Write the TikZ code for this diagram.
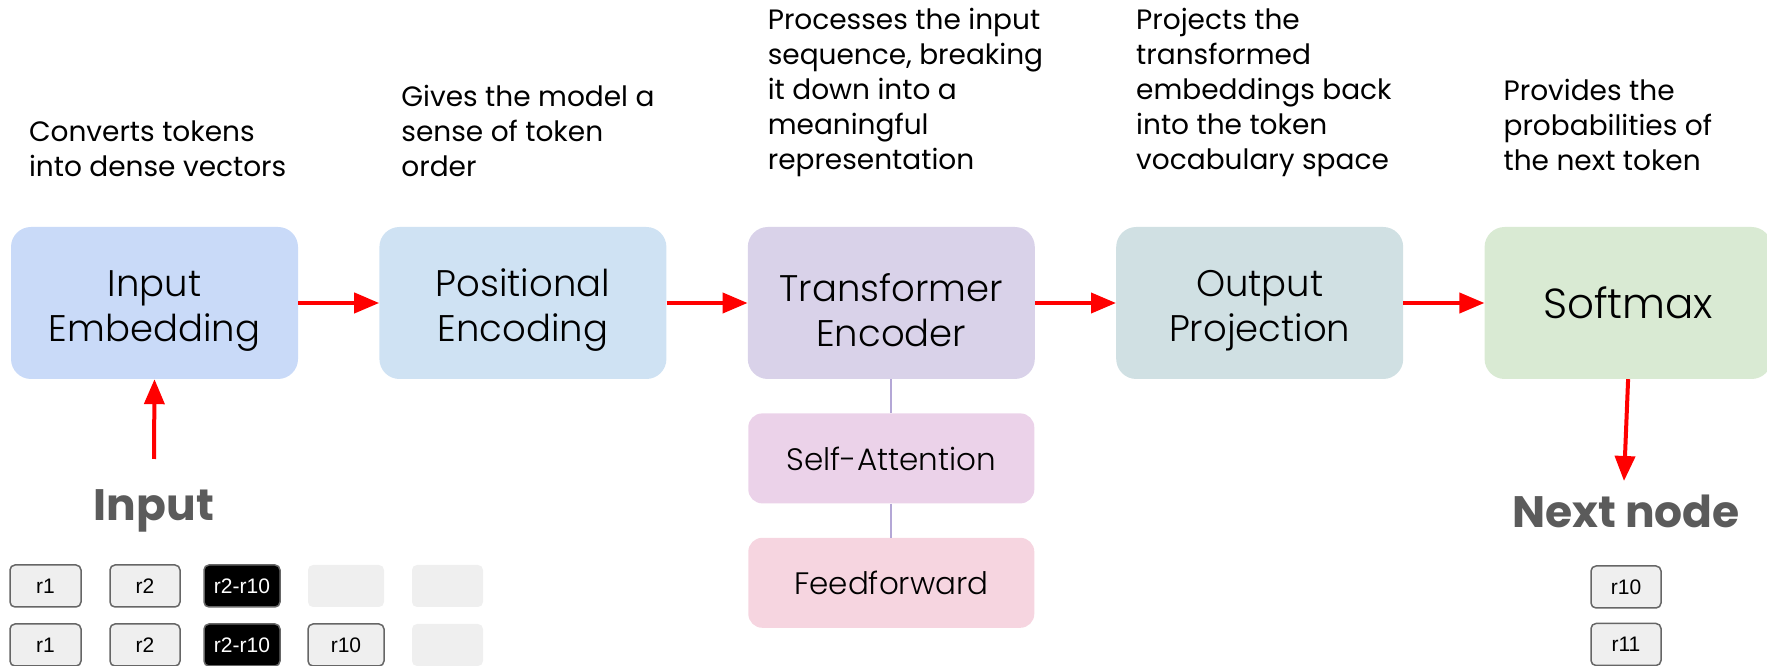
\documentclass[tikz,border=0pt]{standalone}
\usepackage{fontspec}
\setmainfont{Poppins}
\newfontfamily\lightfont{Poppins Light}
\newfontfamily\tokenfont{Liberation Sans}
\usepackage{tikz}
\usetikzlibrary{arrows.meta, positioning, calc}
\definecolor{embedblue}{HTML}{C9DAF8}
\definecolor{posblue}{HTML}{CFE2F3}
\definecolor{encpurple}{HTML}{D9D2E9}
\definecolor{projcyan}{HTML}{D0E0E3}
\definecolor{softgreen}{HTML}{D9EAD3}
\definecolor{attnpink}{HTML}{EBD2E9}
\definecolor{ffpink}{HTML}{F6D5E0}
\definecolor{linklilac}{HTML}{B4A7D6}
\definecolor{labelgray}{HTML}{5B5B5B}
\definecolor{tokengray}{HTML}{EFEFEF}
\definecolor{tokenedge}{HTML}{666666}
\newcommand{\blockstrut}{\rule{0pt}{42pt}}
\tikzstyle{block} = [rounded corners=20pt, minimum width=287pt, minimum height=152pt, align=center, inner sep=0pt, font=\lightfont\fontsize{37}{45}\selectfont]
\tikzstyle{subblock} = [rounded corners=14pt, minimum width=286pt, minimum height=90pt, inner sep=0pt, font=\lightfont\fontsize{31}{36}\selectfont]
\tikzstyle{desc} = [align=left, inner sep=0pt, font=\fontsize{28}{35}\selectfont]
\tikzstyle{token} = [rounded corners=5pt, draw=tokenedge, line width=1.5pt, fill=tokengray, minimum width=71pt, minimum height=42pt, inner sep=0pt, font=\tokenfont\fontsize{21}{23}\selectfont]
\tikzstyle{blank} = [rounded corners=5pt, fill=tokengray, minimum width=71pt, minimum height=42pt, inner sep=0pt]
\tikzstyle{bigtag} = [text=labelgray, font=\fontsize{44}{52}\selectfont\bfseries]
\tikzstyle{arrow} = [-{Triangle[length=25pt,width=20pt]}, line width=4pt, red]

\begin{document}
\begin{tikzpicture}[x=1pt, y=1pt]
\useasboundingbox (0,0) rectangle (1767,666);

% main pipeline
\node[block, fill=embedblue] (embed) at (154.5,363) {\blockstrut Input\\Embedding};
\node[block, fill=posblue, right=81pt of embed] (posenc) {\blockstrut Positional\\Encoding};
\node[block, fill=encpurple, right=81pt of posenc] (encoder) {\blockstrut Transformer\\Encoder};
\node[block, fill=projcyan, right=81pt of encoder] (outproj) {\blockstrut Output\\Projection};
\node[block, fill=softgreen, right=81pt of outproj, font=\lightfont\fontsize{42}{50}\selectfont] (softmax) {Softmax};

% encoder parts
\node[subblock, fill=attnpink, below=34pt of encoder] (selfattn) {Self-Attention};
\node[subblock, fill=ffpink, below=34pt of selfattn] (feedfwd) {Feedforward};
\draw[linklilac, line width=2pt] (encoder.south) -- (selfattn.north);
\draw[linklilac, line width=2pt] (selfattn.south) -- (feedfwd.north);

% what each stage does
\node[desc, above=50pt of embed.north west, anchor=south west, xshift=18pt] (embedtext) {Converts tokens\\into dense vectors};
\node[desc, above=50pt of posenc.north west, anchor=south west, xshift=22pt] (posenctext) {Gives the model a\\sense of token\\order};
\node[desc, above=50pt of encoder.north west, anchor=south west, xshift=20pt] (encodertext) {Processes the input\\sequence, breaking\\it down into a\\meaningful\\representation};
\node[desc, above=50pt of outproj.north west, anchor=south west, xshift=20pt] (outprojtext) {Projects the\\transformed\\embeddings back\\into the token\\vocabulary space};
\node[desc, above=56pt of softmax.north west, anchor=south west, xshift=19pt] (softmaxtext) {Provides the\\probabilities of\\the next token};

\draw[arrow] (embed.east) -- (posenc.west);
\draw[arrow] (posenc.east) -- (encoder.west);
\draw[arrow] (encoder.east) -- (outproj.west);
\draw[arrow] (outproj.east) -- (softmax.west);

% input side
\node[bigtag] (inputtag) at (154,155) {Input};
\coordinate (inputfoot) at (154,207);
\draw[arrow] (inputfoot) -- (embed.south);

\node[token] (a1) at (45.5,80) {r1};
\node[token, minimum width=70pt] (a2) at (145,80) {r2};
\node[token, minimum width=76pt, fill=black, draw=tokenedge, text=white] (a3) at (242,80) {r2-r10};
\node[blank, minimum width=76pt] (a4) at (346,80) {};
\node[blank] (a5) at (447.5,80) {};

\node[token] (b1) at (45.5,21) {r1};
\node[token, minimum width=70pt] (b2) at (145,21) {r2};
\node[token, minimum width=76pt, fill=black, draw=tokenedge, text=white] (b3) at (242,21) {r2-r10};
\node[token, minimum width=76pt] (b4) at (346,21) {r10};
\node[blank] (b5) at (447.5,21) {};

% output side
\node[bigtag] (nexttag) at (1626,155) {Next node};
\coordinate (nexthead) at (1624,185);
\draw[arrow] (softmax.south) -- (nexthead);

\node[token, minimum width=70pt] (c1) at (1626,79) {r10};
\node[token, minimum width=70pt] (c2) at (1626,21.5) {r11};
\end{tikzpicture}
\end{document}
